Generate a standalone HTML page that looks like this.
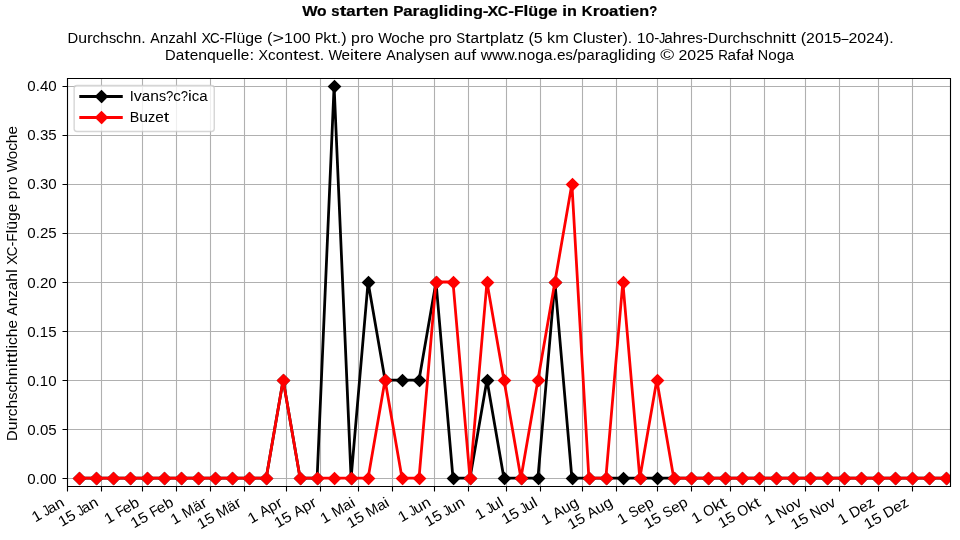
<!DOCTYPE html>
<html><head><meta charset="utf-8"><title>Wo starten Paragliding-XC-Flüge in Kroatien?</title>
<style>html,body{margin:0;padding:0;background:#fff;width:960px;height:540px;overflow:hidden}svg{display:block;will-change:transform}
text{font-family:"Liberation Sans",sans-serif}</style></head>
<body>
<svg width="960" height="540" viewBox="0 0 960 540"><defs><clipPath id="c"><rect x="67.2" y="78" width="883.2" height="408"/></clipPath>
<path id="d" d="M0 5.89 L5.89 0 L0 -5.89 L-5.89 0Z"/></defs>
<rect width="960" height="540" fill="#fff"/>
<path clip-path="url(#c)" d="M67.5 486.5V78.5M101.5 486.5V78.5M142.5 486.5V78.5M176.5 486.5V78.5M210.5 486.5V78.5M244.5 486.5V78.5M286.5 486.5V78.5M320.5 486.5V78.5M358.5 486.5V78.5M392.5 486.5V78.5M434.5 486.5V78.5M468.5 486.5V78.5M506.5 486.5V78.5M540.5 486.5V78.5M582.5 486.5V78.5M616.5 486.5V78.5M657.5 486.5V78.5M691.5 486.5V78.5M730.5 486.5V78.5M764.5 486.5V78.5M805.5 486.5V78.5M839.5 486.5V78.5M878.5 486.5V78.5M912.5 486.5V78.5M67.5 478.5H950.5M67.5 429.5H950.5M67.5 380.5H950.5M67.5 331.5H950.5M67.5 282.5H950.5M67.5 233.5H950.5M67.5 184.5H950.5M67.5 135.5H950.5M67.5 86.5H950.5" fill="none" stroke="#b0b0b0" stroke-width="1.11" stroke-linecap="square"/>
<path d="M67.5 486.5v5M101.5 486.5v5M142.5 486.5v5M176.5 486.5v5M210.5 486.5v5M244.5 486.5v5M286.5 486.5v5M320.5 486.5v5M358.5 486.5v5M392.5 486.5v5M434.5 486.5v5M468.5 486.5v5M506.5 486.5v5M540.5 486.5v5M582.5 486.5v5M616.5 486.5v5M657.5 486.5v5M691.5 486.5v5M730.5 486.5v5M764.5 486.5v5M805.5 486.5v5M839.5 486.5v5M878.5 486.5v5M912.5 486.5v5M67.5 478.5h-5M67.5 429.5h-5M67.5 380.5h-5M67.5 331.5h-5M67.5 282.5h-5M67.5 233.5h-5M67.5 184.5h-5M67.5 135.5h-5M67.5 86.5h-5" fill="none" stroke="#000" stroke-width="1.11"/>
<path clip-path="url(#c)" d="M79.33 478.15L96.32 478.15L113.3 478.15L130.29 478.15L147.27 478.15L164.25 478.15L181.24 478.15L198.22 478.15L215.21 478.15L232.19 478.15L249.18 478.15L266.16 478.15L283.15 380.08L300.13 478.15L317.12 478.15L334.1 85.85L351.09 478.15L368.07 282L385.05 380.08L402.04 380.08L419.02 380.08L436.01 282L452.99 478.15L469.98 478.15L486.96 380.08L503.95 478.15L520.93 478.15L537.92 478.15L554.9 282L571.89 478.15L588.87 478.15L605.85 478.15L622.84 478.15L639.82 478.15L656.81 478.15L673.79 478.15L690.78 478.15L707.76 478.15L724.75 478.15L741.73 478.15L758.72 478.15L775.7 478.15L792.69 478.15L809.67 478.15L826.65 478.15L843.64 478.15L860.62 478.15L877.61 478.15L894.59 478.15L911.58 478.15L928.56 478.15L945.55 478.15" fill="none" stroke="#000" stroke-width="2.78" stroke-linecap="square" stroke-linejoin="round"/>
<g clip-path="url(#c)" fill="#000" stroke="#000" stroke-width="1.39" stroke-linejoin="miter"><use href="#d" x="79.5" y="478.5"/><use href="#d" x="96.5" y="478.5"/><use href="#d" x="113.5" y="478.5"/><use href="#d" x="130.5" y="478.5"/><use href="#d" x="147.5" y="478.5"/><use href="#d" x="164.5" y="478.5"/><use href="#d" x="181.5" y="478.5"/><use href="#d" x="198.5" y="478.5"/><use href="#d" x="215.5" y="478.5"/><use href="#d" x="232.5" y="478.5"/><use href="#d" x="249.5" y="478.5"/><use href="#d" x="266.5" y="478.5"/><use href="#d" x="283.5" y="380.5"/><use href="#d" x="300.5" y="478.5"/><use href="#d" x="317.5" y="478.5"/><use href="#d" x="334.5" y="86.5"/><use href="#d" x="351.5" y="478.5"/><use href="#d" x="368.5" y="282.5"/><use href="#d" x="385.5" y="380.5"/><use href="#d" x="402.5" y="380.5"/><use href="#d" x="419.5" y="380.5"/><use href="#d" x="436.5" y="282.5"/><use href="#d" x="453.5" y="478.5"/><use href="#d" x="470.5" y="478.5"/><use href="#d" x="487.5" y="380.5"/><use href="#d" x="504.5" y="478.5"/><use href="#d" x="521.5" y="478.5"/><use href="#d" x="538.5" y="478.5"/><use href="#d" x="555.5" y="282.5"/><use href="#d" x="572.5" y="478.5"/><use href="#d" x="589.5" y="478.5"/><use href="#d" x="606.5" y="478.5"/><use href="#d" x="623.5" y="478.5"/><use href="#d" x="640.5" y="478.5"/><use href="#d" x="657.5" y="478.5"/><use href="#d" x="674.5" y="478.5"/><use href="#d" x="691.5" y="478.5"/><use href="#d" x="708.5" y="478.5"/><use href="#d" x="725.5" y="478.5"/><use href="#d" x="742.5" y="478.5"/><use href="#d" x="759.5" y="478.5"/><use href="#d" x="776.5" y="478.5"/><use href="#d" x="793.5" y="478.5"/><use href="#d" x="810.5" y="478.5"/><use href="#d" x="827.5" y="478.5"/><use href="#d" x="844.5" y="478.5"/><use href="#d" x="861.5" y="478.5"/><use href="#d" x="878.5" y="478.5"/><use href="#d" x="895.5" y="478.5"/><use href="#d" x="912.5" y="478.5"/><use href="#d" x="929.5" y="478.5"/><use href="#d" x="946.5" y="478.5"/></g>
<path clip-path="url(#c)" d="M79.33 478.15L96.32 478.15L113.3 478.15L130.29 478.15L147.27 478.15L164.25 478.15L181.24 478.15L198.22 478.15L215.21 478.15L232.19 478.15L249.18 478.15L266.16 478.15L283.15 380.08L300.13 478.15L317.12 478.15L334.1 478.15L351.09 478.15L368.07 478.15L385.05 380.08L402.04 478.15L419.02 478.15L436.01 282L452.99 282L469.98 478.15L486.96 282L503.95 380.08L520.93 478.15L537.92 380.08L554.9 282L571.89 183.92L588.87 478.15L605.85 478.15L622.84 282L639.82 478.15L656.81 380.08L673.79 478.15L690.78 478.15L707.76 478.15L724.75 478.15L741.73 478.15L758.72 478.15L775.7 478.15L792.69 478.15L809.67 478.15L826.65 478.15L843.64 478.15L860.62 478.15L877.61 478.15L894.59 478.15L911.58 478.15L928.56 478.15L945.55 478.15" fill="none" stroke="#f00" stroke-width="2.78" stroke-linecap="square" stroke-linejoin="round"/>
<g clip-path="url(#c)" fill="#f00" stroke="#f00" stroke-width="1.39" stroke-linejoin="miter"><use href="#d" x="79.5" y="478.5"/><use href="#d" x="96.5" y="478.5"/><use href="#d" x="113.5" y="478.5"/><use href="#d" x="130.5" y="478.5"/><use href="#d" x="147.5" y="478.5"/><use href="#d" x="164.5" y="478.5"/><use href="#d" x="181.5" y="478.5"/><use href="#d" x="198.5" y="478.5"/><use href="#d" x="215.5" y="478.5"/><use href="#d" x="232.5" y="478.5"/><use href="#d" x="249.5" y="478.5"/><use href="#d" x="266.5" y="478.5"/><use href="#d" x="283.5" y="380.5"/><use href="#d" x="300.5" y="478.5"/><use href="#d" x="317.5" y="478.5"/><use href="#d" x="334.5" y="478.5"/><use href="#d" x="351.5" y="478.5"/><use href="#d" x="368.5" y="478.5"/><use href="#d" x="385.5" y="380.5"/><use href="#d" x="402.5" y="478.5"/><use href="#d" x="419.5" y="478.5"/><use href="#d" x="436.5" y="282.5"/><use href="#d" x="453.5" y="282.5"/><use href="#d" x="470.5" y="478.5"/><use href="#d" x="487.5" y="282.5"/><use href="#d" x="504.5" y="380.5"/><use href="#d" x="521.5" y="478.5"/><use href="#d" x="538.5" y="380.5"/><use href="#d" x="555.5" y="282.5"/><use href="#d" x="572.5" y="184.5"/><use href="#d" x="589.5" y="478.5"/><use href="#d" x="606.5" y="478.5"/><use href="#d" x="623.5" y="282.5"/><use href="#d" x="640.5" y="478.5"/><use href="#d" x="657.5" y="380.5"/><use href="#d" x="674.5" y="478.5"/><use href="#d" x="691.5" y="478.5"/><use href="#d" x="708.5" y="478.5"/><use href="#d" x="725.5" y="478.5"/><use href="#d" x="742.5" y="478.5"/><use href="#d" x="759.5" y="478.5"/><use href="#d" x="776.5" y="478.5"/><use href="#d" x="793.5" y="478.5"/><use href="#d" x="810.5" y="478.5"/><use href="#d" x="827.5" y="478.5"/><use href="#d" x="844.5" y="478.5"/><use href="#d" x="861.5" y="478.5"/><use href="#d" x="878.5" y="478.5"/><use href="#d" x="895.5" y="478.5"/><use href="#d" x="912.5" y="478.5"/><use href="#d" x="929.5" y="478.5"/><use href="#d" x="946.5" y="478.5"/></g>
<path d="M67.5 486.5V78.5H950.5V486.5Z" fill="none" stroke="#000" stroke-width="1.11" stroke-linecap="square" stroke-linejoin="miter"/>
<rect x="74.14" y="85.44" width="140.11" height="46.06" rx="2.78" fill="#fff" stroke="#ccc" stroke-width="1.39" opacity="0.8"/>
<path d="M80.7 96.5H121.37" stroke="#000" stroke-width="2.78" stroke-linecap="square"/>
<use href="#d" x="101.5" y="96.5" fill="#000" stroke="#000" stroke-width="1.39" stroke-linejoin="miter"/>
<path d="M80.7 117.5H121.37" stroke="#f00" stroke-width="2.78" stroke-linecap="square"/>
<use href="#d" x="101.5" y="117.5" fill="#f00" stroke="#f00" stroke-width="1.39" stroke-linejoin="miter"/>
<text x="35.31" y="522.56" transform="rotate(-30 35.31 522.56)" font-size="14.72"><tspan x="35.31" textLength="8.84" lengthAdjust="spacingAndGlyphs">1</tspan><tspan x="47.49" textLength="6.25" lengthAdjust="spacingAndGlyphs">J</tspan><tspan x="52.66" textLength="8.51" lengthAdjust="spacingAndGlyphs">a</tspan><tspan x="61.17" textLength="8.8" lengthAdjust="spacingAndGlyphs">n</tspan></text>
<text x="61.71" y="526.94" transform="rotate(-30 61.71 526.94)" font-size="14.72"><tspan x="61.71" textLength="8.84" lengthAdjust="spacingAndGlyphs">1</tspan><tspan x="70.54" textLength="8.84" lengthAdjust="spacingAndGlyphs">5</tspan><tspan x="82.71" textLength="6.25" lengthAdjust="spacingAndGlyphs">J</tspan><tspan x="87.89" textLength="8.51" lengthAdjust="spacingAndGlyphs">a</tspan><tspan x="96.4" textLength="8.8" lengthAdjust="spacingAndGlyphs">n</tspan></text>
<text x="107.72" y="524.19" transform="rotate(-30 107.72 524.19)" font-size="14.72"><tspan x="107.72" textLength="8.84" lengthAdjust="spacingAndGlyphs">1</tspan><tspan x="120.97" textLength="7.99" lengthAdjust="spacingAndGlyphs">F</tspan><tspan x="128.19" textLength="8.54" lengthAdjust="spacingAndGlyphs">e</tspan><tspan x="136.74" textLength="8.82" lengthAdjust="spacingAndGlyphs">b</tspan></text>
<text x="134.11" y="528.56" transform="rotate(-30 134.11 528.56)" font-size="14.72"><tspan x="134.11" textLength="8.84" lengthAdjust="spacingAndGlyphs">1</tspan><tspan x="142.94" textLength="8.84" lengthAdjust="spacingAndGlyphs">5</tspan><tspan x="156.2" textLength="7.99" lengthAdjust="spacingAndGlyphs">F</tspan><tspan x="163.42" textLength="8.54" lengthAdjust="spacingAndGlyphs">e</tspan><tspan x="171.97" textLength="8.82" lengthAdjust="spacingAndGlyphs">b</tspan></text>
<text x="174.14" y="525.06" transform="rotate(-30 174.14 525.06)" font-size="14.72"><tspan x="174.14" textLength="8.84" lengthAdjust="spacingAndGlyphs">1</tspan><tspan x="187.39" textLength="11.98" lengthAdjust="spacingAndGlyphs">M</tspan><tspan x="199.37" textLength="8.51" lengthAdjust="spacingAndGlyphs">ä</tspan><tspan x="207.89" textLength="5.71" lengthAdjust="spacingAndGlyphs">r</tspan></text>
<text x="200.53" y="529.44" transform="rotate(-30 200.53 529.44)" font-size="14.72"><tspan x="200.53" textLength="8.84" lengthAdjust="spacingAndGlyphs">1</tspan><tspan x="209.37" textLength="8.84" lengthAdjust="spacingAndGlyphs">5</tspan><tspan x="222.62" textLength="11.98" lengthAdjust="spacingAndGlyphs">M</tspan><tspan x="234.6" textLength="8.51" lengthAdjust="spacingAndGlyphs">ä</tspan><tspan x="243.11" textLength="5.71" lengthAdjust="spacingAndGlyphs">r</tspan></text>
<text x="251.31" y="523.94" transform="rotate(-30 251.31 523.94)" font-size="14.72"><tspan x="251.31" textLength="8.84" lengthAdjust="spacingAndGlyphs">1</tspan><tspan x="264.56" textLength="9.5" lengthAdjust="spacingAndGlyphs">A</tspan><tspan x="274.06" textLength="8.82" lengthAdjust="spacingAndGlyphs">p</tspan><tspan x="282.87" textLength="5.71" lengthAdjust="spacingAndGlyphs">r</tspan></text>
<text x="277.7" y="528.31" transform="rotate(-30 277.7 528.31)" font-size="14.72"><tspan x="277.7" textLength="8.84" lengthAdjust="spacingAndGlyphs">1</tspan><tspan x="286.53" textLength="8.84" lengthAdjust="spacingAndGlyphs">5</tspan><tspan x="299.79" textLength="9.5" lengthAdjust="spacingAndGlyphs">A</tspan><tspan x="309.29" textLength="8.82" lengthAdjust="spacingAndGlyphs">p</tspan><tspan x="318.1" textLength="5.71" lengthAdjust="spacingAndGlyphs">r</tspan></text>
<text x="323.77" y="524.12" transform="rotate(-30 323.77 524.12)" font-size="14.72"><tspan x="323.77" textLength="8.84" lengthAdjust="spacingAndGlyphs">1</tspan><tspan x="337.02" textLength="11.98" lengthAdjust="spacingAndGlyphs">M</tspan><tspan x="349.01" textLength="8.51" lengthAdjust="spacingAndGlyphs">a</tspan><tspan x="357.52" textLength="3.86" lengthAdjust="spacingAndGlyphs">i</tspan></text>
<text x="350.16" y="528.5" transform="rotate(-30 350.16 528.5)" font-size="14.72"><tspan x="350.16" textLength="8.84" lengthAdjust="spacingAndGlyphs">1</tspan><tspan x="359" textLength="8.84" lengthAdjust="spacingAndGlyphs">5</tspan><tspan x="372.25" textLength="11.98" lengthAdjust="spacingAndGlyphs">M</tspan><tspan x="384.24" textLength="8.51" lengthAdjust="spacingAndGlyphs">a</tspan><tspan x="392.75" textLength="3.86" lengthAdjust="spacingAndGlyphs">i</tspan></text>
<text x="401.59" y="522.62" transform="rotate(-30 401.59 522.62)" font-size="14.72"><tspan x="401.59" textLength="8.84" lengthAdjust="spacingAndGlyphs">1</tspan><tspan x="413.76" textLength="6.25" lengthAdjust="spacingAndGlyphs">J</tspan><tspan x="418.94" textLength="8.8" lengthAdjust="spacingAndGlyphs">u</tspan><tspan x="427.74" textLength="8.8" lengthAdjust="spacingAndGlyphs">n</tspan></text>
<text x="427.98" y="527" transform="rotate(-30 427.98 527)" font-size="14.72"><tspan x="427.98" textLength="8.84" lengthAdjust="spacingAndGlyphs">1</tspan><tspan x="436.82" textLength="8.84" lengthAdjust="spacingAndGlyphs">5</tspan><tspan x="448.99" textLength="6.25" lengthAdjust="spacingAndGlyphs">J</tspan><tspan x="454.16" textLength="8.8" lengthAdjust="spacingAndGlyphs">u</tspan><tspan x="462.97" textLength="8.8" lengthAdjust="spacingAndGlyphs">n</tspan></text>
<text x="478.6" y="520.19" transform="rotate(-30 478.6 520.19)" font-size="14.72"><tspan x="478.6" textLength="8.84" lengthAdjust="spacingAndGlyphs">1</tspan><tspan x="490.77" textLength="6.25" lengthAdjust="spacingAndGlyphs">J</tspan><tspan x="495.95" textLength="8.8" lengthAdjust="spacingAndGlyphs">u</tspan><tspan x="504.75" textLength="3.86" lengthAdjust="spacingAndGlyphs">l</tspan></text>
<text x="504.99" y="524.56" transform="rotate(-30 504.99 524.56)" font-size="14.72"><tspan x="504.99" textLength="8.84" lengthAdjust="spacingAndGlyphs">1</tspan><tspan x="513.83" textLength="8.84" lengthAdjust="spacingAndGlyphs">5</tspan><tspan x="526" textLength="6.25" lengthAdjust="spacingAndGlyphs">J</tspan><tspan x="531.18" textLength="8.8" lengthAdjust="spacingAndGlyphs">u</tspan><tspan x="539.98" textLength="3.86" lengthAdjust="spacingAndGlyphs">l</tspan></text>
<text x="544.73" y="525.44" transform="rotate(-30 544.73 525.44)" font-size="14.72"><tspan x="544.73" textLength="8.84" lengthAdjust="spacingAndGlyphs">1</tspan><tspan x="557.98" textLength="9.5" lengthAdjust="spacingAndGlyphs">A</tspan><tspan x="567.48" textLength="8.8" lengthAdjust="spacingAndGlyphs">u</tspan><tspan x="576.28" textLength="8.82" lengthAdjust="spacingAndGlyphs">g</tspan></text>
<text x="571.12" y="529.81" transform="rotate(-30 571.12 529.81)" font-size="14.72"><tspan x="571.12" textLength="8.84" lengthAdjust="spacingAndGlyphs">1</tspan><tspan x="579.95" textLength="8.84" lengthAdjust="spacingAndGlyphs">5</tspan><tspan x="593.2" textLength="9.5" lengthAdjust="spacingAndGlyphs">A</tspan><tspan x="602.71" textLength="8.8" lengthAdjust="spacingAndGlyphs">u</tspan><tspan x="611.51" textLength="8.82" lengthAdjust="spacingAndGlyphs">g</tspan></text>
<text x="620.81" y="524.94" transform="rotate(-30 620.81 524.94)" font-size="14.72"><tspan x="620.81" textLength="8.84" lengthAdjust="spacingAndGlyphs">1</tspan><tspan x="634.06" textLength="8.82" lengthAdjust="spacingAndGlyphs">S</tspan><tspan x="642.88" textLength="8.54" lengthAdjust="spacingAndGlyphs">e</tspan><tspan x="651.42" textLength="8.82" lengthAdjust="spacingAndGlyphs">p</tspan></text>
<text x="647.2" y="529.31" transform="rotate(-30 647.2 529.31)" font-size="14.72"><tspan x="647.2" textLength="8.84" lengthAdjust="spacingAndGlyphs">1</tspan><tspan x="656.04" textLength="8.84" lengthAdjust="spacingAndGlyphs">5</tspan><tspan x="669.29" textLength="8.82" lengthAdjust="spacingAndGlyphs">S</tspan><tspan x="678.1" textLength="8.54" lengthAdjust="spacingAndGlyphs">e</tspan><tspan x="686.65" textLength="8.82" lengthAdjust="spacingAndGlyphs">p</tspan></text>
<text x="695.01" y="524.12" transform="rotate(-30 695.01 524.12)" font-size="14.72"><tspan x="695.01" textLength="8.84" lengthAdjust="spacingAndGlyphs">1</tspan><tspan x="708.26" textLength="10.93" lengthAdjust="spacingAndGlyphs">O</tspan><tspan x="719.19" textLength="8.04" lengthAdjust="spacingAndGlyphs">k</tspan><tspan x="727.23" textLength="5.45" lengthAdjust="spacingAndGlyphs">t</tspan></text>
<text x="721.4" y="528.5" transform="rotate(-30 721.4 528.5)" font-size="14.72"><tspan x="721.4" textLength="8.84" lengthAdjust="spacingAndGlyphs">1</tspan><tspan x="730.24" textLength="8.84" lengthAdjust="spacingAndGlyphs">5</tspan><tspan x="743.49" textLength="10.93" lengthAdjust="spacingAndGlyphs">O</tspan><tspan x="754.42" textLength="8.04" lengthAdjust="spacingAndGlyphs">k</tspan><tspan x="762.46" textLength="5.45" lengthAdjust="spacingAndGlyphs">t</tspan></text>
<text x="767.95" y="525.44" transform="rotate(-30 767.95 525.44)" font-size="14.72"><tspan x="767.95" textLength="8.84" lengthAdjust="spacingAndGlyphs">1</tspan><tspan x="781.2" textLength="10.39" lengthAdjust="spacingAndGlyphs">N</tspan><tspan x="791.59" textLength="8.5" lengthAdjust="spacingAndGlyphs">o</tspan><tspan x="800.09" textLength="8.22" lengthAdjust="spacingAndGlyphs">v</tspan></text>
<text x="794.34" y="529.81" transform="rotate(-30 794.34 529.81)" font-size="14.72"><tspan x="794.34" textLength="8.84" lengthAdjust="spacingAndGlyphs">1</tspan><tspan x="803.18" textLength="8.84" lengthAdjust="spacingAndGlyphs">5</tspan><tspan x="816.43" textLength="10.39" lengthAdjust="spacingAndGlyphs">N</tspan><tspan x="826.82" textLength="8.5" lengthAdjust="spacingAndGlyphs">o</tspan><tspan x="835.32" textLength="8.22" lengthAdjust="spacingAndGlyphs">v</tspan></text>
<text x="841.18" y="525.19" transform="rotate(-30 841.18 525.19)" font-size="14.72"><tspan x="841.18" textLength="8.84" lengthAdjust="spacingAndGlyphs">1</tspan><tspan x="854.43" textLength="10.69" lengthAdjust="spacingAndGlyphs">D</tspan><tspan x="865.12" textLength="8.54" lengthAdjust="spacingAndGlyphs">e</tspan><tspan x="873.67" textLength="7.29" lengthAdjust="spacingAndGlyphs">z</tspan></text>
<text x="867.57" y="529.56" transform="rotate(-30 867.57 529.56)" font-size="14.72"><tspan x="867.57" textLength="8.84" lengthAdjust="spacingAndGlyphs">1</tspan><tspan x="876.4" textLength="8.84" lengthAdjust="spacingAndGlyphs">5</tspan><tspan x="889.66" textLength="10.69" lengthAdjust="spacingAndGlyphs">D</tspan><tspan x="900.35" textLength="8.54" lengthAdjust="spacingAndGlyphs">e</tspan><tspan x="908.9" textLength="7.29" lengthAdjust="spacingAndGlyphs">z</tspan></text>
<text x="27.35" y="483.65" font-size="14.72"><tspan x="27.35" textLength="8.38" lengthAdjust="spacingAndGlyphs">0</tspan><tspan x="35.73" textLength="4.19" lengthAdjust="spacingAndGlyphs">.</tspan><tspan x="39.92" textLength="8.38" lengthAdjust="spacingAndGlyphs">0</tspan><tspan x="48.29" textLength="8.38" lengthAdjust="spacingAndGlyphs">0</tspan></text>
<text x="27.35" y="434.62" font-size="14.72"><tspan x="27.35" textLength="8.38" lengthAdjust="spacingAndGlyphs">0</tspan><tspan x="35.73" textLength="4.19" lengthAdjust="spacingAndGlyphs">.</tspan><tspan x="39.92" textLength="8.38" lengthAdjust="spacingAndGlyphs">0</tspan><tspan x="48.29" textLength="8.38" lengthAdjust="spacingAndGlyphs">5</tspan></text>
<text x="27.23" y="385.58" font-size="14.72"><tspan x="27.23" textLength="8.38" lengthAdjust="spacingAndGlyphs">0</tspan><tspan x="35.6" textLength="4.19" lengthAdjust="spacingAndGlyphs">.</tspan><tspan x="39.79" textLength="8.38" lengthAdjust="spacingAndGlyphs">1</tspan><tspan x="48.17" textLength="8.38" lengthAdjust="spacingAndGlyphs">0</tspan></text>
<text x="27.23" y="336.54" font-size="14.72"><tspan x="27.23" textLength="8.38" lengthAdjust="spacingAndGlyphs">0</tspan><tspan x="35.6" textLength="4.19" lengthAdjust="spacingAndGlyphs">.</tspan><tspan x="39.79" textLength="8.38" lengthAdjust="spacingAndGlyphs">1</tspan><tspan x="48.17" textLength="8.38" lengthAdjust="spacingAndGlyphs">5</tspan></text>
<text x="27.35" y="287.5" font-size="14.72"><tspan x="27.35" textLength="8.38" lengthAdjust="spacingAndGlyphs">0</tspan><tspan x="35.73" textLength="4.19" lengthAdjust="spacingAndGlyphs">.</tspan><tspan x="39.92" textLength="8.38" lengthAdjust="spacingAndGlyphs">2</tspan><tspan x="48.29" textLength="8.38" lengthAdjust="spacingAndGlyphs">0</tspan></text>
<text x="27.35" y="238.46" font-size="14.72"><tspan x="27.35" textLength="8.38" lengthAdjust="spacingAndGlyphs">0</tspan><tspan x="35.73" textLength="4.19" lengthAdjust="spacingAndGlyphs">.</tspan><tspan x="39.92" textLength="8.38" lengthAdjust="spacingAndGlyphs">2</tspan><tspan x="48.29" textLength="8.38" lengthAdjust="spacingAndGlyphs">5</tspan></text>
<text x="27.35" y="189.42" font-size="14.72"><tspan x="27.35" textLength="8.38" lengthAdjust="spacingAndGlyphs">0</tspan><tspan x="35.73" textLength="4.19" lengthAdjust="spacingAndGlyphs">.</tspan><tspan x="39.92" textLength="8.38" lengthAdjust="spacingAndGlyphs">3</tspan><tspan x="48.29" textLength="8.38" lengthAdjust="spacingAndGlyphs">0</tspan></text>
<text x="27.35" y="140.38" font-size="14.72"><tspan x="27.35" textLength="8.38" lengthAdjust="spacingAndGlyphs">0</tspan><tspan x="35.73" textLength="4.19" lengthAdjust="spacingAndGlyphs">.</tspan><tspan x="39.92" textLength="8.38" lengthAdjust="spacingAndGlyphs">3</tspan><tspan x="48.29" textLength="8.38" lengthAdjust="spacingAndGlyphs">5</tspan></text>
<text x="27.35" y="91.35" font-size="14.72"><tspan x="27.35" textLength="8.38" lengthAdjust="spacingAndGlyphs">0</tspan><tspan x="35.73" textLength="4.19" lengthAdjust="spacingAndGlyphs">.</tspan><tspan x="39.92" textLength="8.38" lengthAdjust="spacingAndGlyphs">4</tspan><tspan x="48.29" textLength="8.38" lengthAdjust="spacingAndGlyphs">0</tspan></text>
<text x="17.17" y="440.94" transform="rotate(-90 17.17 440.94)" font-size="14.72"><tspan x="17.17" textLength="10.66" lengthAdjust="spacingAndGlyphs">D</tspan><tspan x="27.83" textLength="8.77" lengthAdjust="spacingAndGlyphs">u</tspan><tspan x="36.61" textLength="5.69" lengthAdjust="spacingAndGlyphs">r</tspan><tspan x="41.99" textLength="7.61" lengthAdjust="spacingAndGlyphs">c</tspan><tspan x="49.6" textLength="8.77" lengthAdjust="spacingAndGlyphs">h</tspan><tspan x="58.37" textLength="7.21" lengthAdjust="spacingAndGlyphs">s</tspan><tspan x="65.59" textLength="7.61" lengthAdjust="spacingAndGlyphs">c</tspan><tspan x="73.2" textLength="8.77" lengthAdjust="spacingAndGlyphs">h</tspan><tspan x="81.97" textLength="8.77" lengthAdjust="spacingAndGlyphs">n</tspan><tspan x="90.75" textLength="3.85" lengthAdjust="spacingAndGlyphs">i</tspan><tspan x="94.59" textLength="5.43" lengthAdjust="spacingAndGlyphs">t</tspan><tspan x="100.02" textLength="5.43" lengthAdjust="spacingAndGlyphs">t</tspan><tspan x="105.45" textLength="3.85" lengthAdjust="spacingAndGlyphs">l</tspan><tspan x="109.3" textLength="3.85" lengthAdjust="spacingAndGlyphs">i</tspan><tspan x="113.14" textLength="7.61" lengthAdjust="spacingAndGlyphs">c</tspan><tspan x="120.75" textLength="8.77" lengthAdjust="spacingAndGlyphs">h</tspan><tspan x="129.53" textLength="8.52" lengthAdjust="spacingAndGlyphs">e</tspan><tspan x="142.45" textLength="9.47" lengthAdjust="spacingAndGlyphs">A</tspan><tspan x="151.92" textLength="8.77" lengthAdjust="spacingAndGlyphs">n</tspan><tspan x="160.69" textLength="7.27" lengthAdjust="spacingAndGlyphs">z</tspan><tspan x="167.96" textLength="8.48" lengthAdjust="spacingAndGlyphs">a</tspan><tspan x="176.44" textLength="8.77" lengthAdjust="spacingAndGlyphs">h</tspan><tspan x="185.22" textLength="3.85" lengthAdjust="spacingAndGlyphs">l</tspan><tspan x="193.47" textLength="9.48" lengthAdjust="spacingAndGlyphs">X</tspan><tspan x="201.95" textLength="9.67" lengthAdjust="spacingAndGlyphs">C</tspan><tspan x="211.61" textLength="5" lengthAdjust="spacingAndGlyphs">-</tspan><tspan x="216.61" textLength="7.96" lengthAdjust="spacingAndGlyphs">F</tspan><tspan x="224.57" textLength="3.85" lengthAdjust="spacingAndGlyphs">l</tspan><tspan x="228.42" textLength="8.77" lengthAdjust="spacingAndGlyphs">ü</tspan><tspan x="237.19" textLength="8.79" lengthAdjust="spacingAndGlyphs">g</tspan><tspan x="245.98" textLength="8.52" lengthAdjust="spacingAndGlyphs">e</tspan><tspan x="258.9" textLength="8.79" lengthAdjust="spacingAndGlyphs">p</tspan><tspan x="267.69" textLength="5.69" lengthAdjust="spacingAndGlyphs">r</tspan><tspan x="273.07" textLength="8.47" lengthAdjust="spacingAndGlyphs">o</tspan><tspan x="285.94" textLength="13.69" lengthAdjust="spacingAndGlyphs">W</tspan><tspan x="298.81" textLength="8.47" lengthAdjust="spacingAndGlyphs">o</tspan><tspan x="307.28" textLength="7.61" lengthAdjust="spacingAndGlyphs">c</tspan><tspan x="314.9" textLength="8.77" lengthAdjust="spacingAndGlyphs">h</tspan><tspan x="323.67" textLength="8.52" lengthAdjust="spacingAndGlyphs">e</tspan></text>
<text x="129.7" y="100.5" font-size="14.72"><tspan x="129.7" textLength="4.03" lengthAdjust="spacingAndGlyphs">I</tspan><tspan x="133.73" textLength="8.1" lengthAdjust="spacingAndGlyphs">v</tspan><tspan x="141.83" textLength="8.38" lengthAdjust="spacingAndGlyphs">a</tspan><tspan x="150.21" textLength="8.67" lengthAdjust="spacingAndGlyphs">n</tspan><tspan x="158.88" textLength="7.13" lengthAdjust="spacingAndGlyphs">s</tspan><tspan x="166.01" textLength="7.26" lengthAdjust="spacingAndGlyphs">?</tspan><tspan x="173.27" textLength="7.52" lengthAdjust="spacingAndGlyphs">c</tspan><tspan x="180.8" textLength="7.26" lengthAdjust="spacingAndGlyphs">?</tspan><tspan x="188.06" textLength="3.8" lengthAdjust="spacingAndGlyphs">i</tspan><tspan x="191.86" textLength="7.52" lengthAdjust="spacingAndGlyphs">c</tspan><tspan x="199.38" textLength="8.38" lengthAdjust="spacingAndGlyphs">a</tspan></text>
<text x="129.7" y="122.24" font-size="14.72"><tspan x="129.7" textLength="9.53" lengthAdjust="spacingAndGlyphs">B</tspan><tspan x="139.23" textLength="8.8" lengthAdjust="spacingAndGlyphs">u</tspan><tspan x="148.03" textLength="7.29" lengthAdjust="spacingAndGlyphs">z</tspan><tspan x="155.32" textLength="8.54" lengthAdjust="spacingAndGlyphs">e</tspan><tspan x="163.87" textLength="5.45" lengthAdjust="spacingAndGlyphs">t</tspan></text>
<text x="67.56" y="42.9" font-size="14.72"><tspan x="67.56" textLength="10.69" lengthAdjust="spacingAndGlyphs">D</tspan><tspan x="78.26" textLength="8.8" lengthAdjust="spacingAndGlyphs">u</tspan><tspan x="87.06" textLength="5.71" lengthAdjust="spacingAndGlyphs">r</tspan><tspan x="92.46" textLength="7.64" lengthAdjust="spacingAndGlyphs">c</tspan><tspan x="100.09" textLength="8.8" lengthAdjust="spacingAndGlyphs">h</tspan><tspan x="108.9" textLength="7.24" lengthAdjust="spacingAndGlyphs">s</tspan><tspan x="116.13" textLength="7.64" lengthAdjust="spacingAndGlyphs">c</tspan><tspan x="123.77" textLength="8.8" lengthAdjust="spacingAndGlyphs">h</tspan><tspan x="132.57" textLength="8.8" lengthAdjust="spacingAndGlyphs">n</tspan><tspan x="141.37" textLength="4.41" lengthAdjust="spacingAndGlyphs">.</tspan><tspan x="150.2" textLength="9.5" lengthAdjust="spacingAndGlyphs">A</tspan><tspan x="159.7" textLength="8.8" lengthAdjust="spacingAndGlyphs">n</tspan><tspan x="168.51" textLength="7.29" lengthAdjust="spacingAndGlyphs">z</tspan><tspan x="175.8" textLength="8.51" lengthAdjust="spacingAndGlyphs">a</tspan><tspan x="184.31" textLength="8.8" lengthAdjust="spacingAndGlyphs">h</tspan><tspan x="193.11" textLength="3.86" lengthAdjust="spacingAndGlyphs">l</tspan><tspan x="201.38" textLength="9.51" lengthAdjust="spacingAndGlyphs">X</tspan><tspan x="209.89" textLength="9.7" lengthAdjust="spacingAndGlyphs">C</tspan><tspan x="219.59" textLength="5.01" lengthAdjust="spacingAndGlyphs">-</tspan><tspan x="224.6" textLength="7.99" lengthAdjust="spacingAndGlyphs">F</tspan><tspan x="232.59" textLength="3.86" lengthAdjust="spacingAndGlyphs">l</tspan><tspan x="236.45" textLength="8.8" lengthAdjust="spacingAndGlyphs">ü</tspan><tspan x="245.25" textLength="8.82" lengthAdjust="spacingAndGlyphs">g</tspan><tspan x="254.07" textLength="8.54" lengthAdjust="spacingAndGlyphs">e</tspan><tspan x="267.03" textLength="5.42" lengthAdjust="spacingAndGlyphs">(</tspan><tspan x="272.46" textLength="11.6" lengthAdjust="spacingAndGlyphs">&gt;</tspan><tspan x="284.08" textLength="8.84" lengthAdjust="spacingAndGlyphs">1</tspan><tspan x="292.92" textLength="8.84" lengthAdjust="spacingAndGlyphs">0</tspan><tspan x="301.76" textLength="8.84" lengthAdjust="spacingAndGlyphs">0</tspan><tspan x="315.01" textLength="8.38" lengthAdjust="spacingAndGlyphs">P</tspan><tspan x="323.38" textLength="8.04" lengthAdjust="spacingAndGlyphs">k</tspan><tspan x="331.43" textLength="5.45" lengthAdjust="spacingAndGlyphs">t</tspan><tspan x="336.87" textLength="4.41" lengthAdjust="spacingAndGlyphs">.</tspan><tspan x="341.29" textLength="5.42" lengthAdjust="spacingAndGlyphs">)</tspan><tspan x="351.12" textLength="8.82" lengthAdjust="spacingAndGlyphs">p</tspan><tspan x="359.94" textLength="5.71" lengthAdjust="spacingAndGlyphs">r</tspan><tspan x="365.34" textLength="8.5" lengthAdjust="spacingAndGlyphs">o</tspan><tspan x="378.25" textLength="13.73" lengthAdjust="spacingAndGlyphs">W</tspan><tspan x="391.16" textLength="8.5" lengthAdjust="spacingAndGlyphs">o</tspan><tspan x="399.66" textLength="7.64" lengthAdjust="spacingAndGlyphs">c</tspan><tspan x="407.3" textLength="8.8" lengthAdjust="spacingAndGlyphs">h</tspan><tspan x="416.1" textLength="8.54" lengthAdjust="spacingAndGlyphs">e</tspan><tspan x="429.06" textLength="8.82" lengthAdjust="spacingAndGlyphs">p</tspan><tspan x="437.88" textLength="5.71" lengthAdjust="spacingAndGlyphs">r</tspan><tspan x="443.27" textLength="8.5" lengthAdjust="spacingAndGlyphs">o</tspan><tspan x="456.19" textLength="8.82" lengthAdjust="spacingAndGlyphs">S</tspan><tspan x="465" textLength="5.45" lengthAdjust="spacingAndGlyphs">t</tspan><tspan x="470.45" textLength="8.51" lengthAdjust="spacingAndGlyphs">a</tspan><tspan x="478.96" textLength="5.71" lengthAdjust="spacingAndGlyphs">r</tspan><tspan x="484.67" textLength="5.45" lengthAdjust="spacingAndGlyphs">t</tspan><tspan x="490.12" textLength="8.82" lengthAdjust="spacingAndGlyphs">p</tspan><tspan x="498.93" textLength="3.86" lengthAdjust="spacingAndGlyphs">l</tspan><tspan x="502.79" textLength="8.51" lengthAdjust="spacingAndGlyphs">a</tspan><tspan x="511.3" textLength="5.45" lengthAdjust="spacingAndGlyphs">t</tspan><tspan x="516.75" textLength="7.29" lengthAdjust="spacingAndGlyphs">z</tspan><tspan x="528.45" textLength="5.42" lengthAdjust="spacingAndGlyphs">(</tspan><tspan x="533.87" textLength="8.84" lengthAdjust="spacingAndGlyphs">5</tspan><tspan x="547.12" textLength="8.04" lengthAdjust="spacingAndGlyphs">k</tspan><tspan x="555.17" textLength="13.53" lengthAdjust="spacingAndGlyphs">m</tspan><tspan x="573.11" textLength="9.7" lengthAdjust="spacingAndGlyphs">C</tspan><tspan x="582.81" textLength="3.86" lengthAdjust="spacingAndGlyphs">l</tspan><tspan x="586.67" textLength="8.8" lengthAdjust="spacingAndGlyphs">u</tspan><tspan x="595.47" textLength="7.24" lengthAdjust="spacingAndGlyphs">s</tspan><tspan x="602.7" textLength="5.45" lengthAdjust="spacingAndGlyphs">t</tspan><tspan x="608.15" textLength="8.54" lengthAdjust="spacingAndGlyphs">e</tspan><tspan x="616.7" textLength="5.71" lengthAdjust="spacingAndGlyphs">r</tspan><tspan x="622.41" textLength="5.42" lengthAdjust="spacingAndGlyphs">)</tspan><tspan x="627.82" textLength="4.41" lengthAdjust="spacingAndGlyphs">.</tspan><tspan x="636.65" textLength="8.84" lengthAdjust="spacingAndGlyphs">1</tspan><tspan x="645.49" textLength="8.84" lengthAdjust="spacingAndGlyphs">0</tspan><tspan x="654.33" textLength="5.01" lengthAdjust="spacingAndGlyphs">-</tspan><tspan x="659.04" textLength="6.25" lengthAdjust="spacingAndGlyphs">J</tspan><tspan x="664.22" textLength="8.51" lengthAdjust="spacingAndGlyphs">a</tspan><tspan x="672.73" textLength="8.8" lengthAdjust="spacingAndGlyphs">h</tspan><tspan x="681.53" textLength="5.71" lengthAdjust="spacingAndGlyphs">r</tspan><tspan x="686.93" textLength="8.54" lengthAdjust="spacingAndGlyphs">e</tspan><tspan x="695.47" textLength="7.24" lengthAdjust="spacingAndGlyphs">s</tspan><tspan x="702.71" textLength="5.01" lengthAdjust="spacingAndGlyphs">-</tspan><tspan x="707.72" textLength="10.69" lengthAdjust="spacingAndGlyphs">D</tspan><tspan x="718.41" textLength="8.8" lengthAdjust="spacingAndGlyphs">u</tspan><tspan x="727.22" textLength="5.71" lengthAdjust="spacingAndGlyphs">r</tspan><tspan x="732.62" textLength="7.64" lengthAdjust="spacingAndGlyphs">c</tspan><tspan x="740.25" textLength="8.8" lengthAdjust="spacingAndGlyphs">h</tspan><tspan x="749.05" textLength="7.24" lengthAdjust="spacingAndGlyphs">s</tspan><tspan x="756.29" textLength="7.64" lengthAdjust="spacingAndGlyphs">c</tspan><tspan x="763.93" textLength="8.8" lengthAdjust="spacingAndGlyphs">h</tspan><tspan x="772.73" textLength="8.8" lengthAdjust="spacingAndGlyphs">n</tspan><tspan x="781.53" textLength="3.86" lengthAdjust="spacingAndGlyphs">i</tspan><tspan x="785.39" textLength="5.45" lengthAdjust="spacingAndGlyphs">t</tspan><tspan x="790.84" textLength="5.45" lengthAdjust="spacingAndGlyphs">t</tspan><tspan x="800.7" textLength="5.42" lengthAdjust="spacingAndGlyphs">(</tspan><tspan x="806.12" textLength="8.84" lengthAdjust="spacingAndGlyphs">2</tspan><tspan x="814.95" textLength="8.84" lengthAdjust="spacingAndGlyphs">0</tspan><tspan x="823.79" textLength="8.84" lengthAdjust="spacingAndGlyphs">1</tspan><tspan x="832.62" textLength="8.84" lengthAdjust="spacingAndGlyphs">5</tspan><tspan x="841.45" textLength="6.96" lengthAdjust="spacingAndGlyphs">–</tspan><tspan x="848.41" textLength="8.84" lengthAdjust="spacingAndGlyphs">2</tspan><tspan x="857.24" textLength="8.84" lengthAdjust="spacingAndGlyphs">0</tspan><tspan x="866.08" textLength="8.84" lengthAdjust="spacingAndGlyphs">2</tspan><tspan x="874.92" textLength="8.84" lengthAdjust="spacingAndGlyphs">4</tspan><tspan x="883.75" textLength="5.42" lengthAdjust="spacingAndGlyphs">)</tspan><tspan x="889.17" textLength="4.41" lengthAdjust="spacingAndGlyphs">.</tspan></text>
<text x="165.01" y="59.8" font-size="14.72"><tspan x="165.01" textLength="10.69" lengthAdjust="spacingAndGlyphs">D</tspan><tspan x="175.71" textLength="8.51" lengthAdjust="spacingAndGlyphs">a</tspan><tspan x="184.22" textLength="5.45" lengthAdjust="spacingAndGlyphs">t</tspan><tspan x="189.66" textLength="8.54" lengthAdjust="spacingAndGlyphs">e</tspan><tspan x="198.21" textLength="8.8" lengthAdjust="spacingAndGlyphs">n</tspan><tspan x="207.01" textLength="8.82" lengthAdjust="spacingAndGlyphs">q</tspan><tspan x="215.83" textLength="8.8" lengthAdjust="spacingAndGlyphs">u</tspan><tspan x="224.63" textLength="8.54" lengthAdjust="spacingAndGlyphs">e</tspan><tspan x="233.18" textLength="3.86" lengthAdjust="spacingAndGlyphs">l</tspan><tspan x="237.03" textLength="3.86" lengthAdjust="spacingAndGlyphs">l</tspan><tspan x="240.89" textLength="8.54" lengthAdjust="spacingAndGlyphs">e</tspan><tspan x="249.44" textLength="4.68" lengthAdjust="spacingAndGlyphs">:</tspan><tspan x="258.53" textLength="9.51" lengthAdjust="spacingAndGlyphs">X</tspan><tspan x="268.05" textLength="7.64" lengthAdjust="spacingAndGlyphs">c</tspan><tspan x="275.68" textLength="8.5" lengthAdjust="spacingAndGlyphs">o</tspan><tspan x="284.18" textLength="8.8" lengthAdjust="spacingAndGlyphs">n</tspan><tspan x="292.98" textLength="5.45" lengthAdjust="spacingAndGlyphs">t</tspan><tspan x="298.43" textLength="8.54" lengthAdjust="spacingAndGlyphs">e</tspan><tspan x="306.97" textLength="7.24" lengthAdjust="spacingAndGlyphs">s</tspan><tspan x="314.21" textLength="5.45" lengthAdjust="spacingAndGlyphs">t</tspan><tspan x="319.66" textLength="4.41" lengthAdjust="spacingAndGlyphs">.</tspan><tspan x="328.48" textLength="13.73" lengthAdjust="spacingAndGlyphs">W</tspan><tspan x="341.4" textLength="8.54" lengthAdjust="spacingAndGlyphs">e</tspan><tspan x="349.95" textLength="3.86" lengthAdjust="spacingAndGlyphs">i</tspan><tspan x="353.81" textLength="5.45" lengthAdjust="spacingAndGlyphs">t</tspan><tspan x="359.25" textLength="8.54" lengthAdjust="spacingAndGlyphs">e</tspan><tspan x="367.8" textLength="5.71" lengthAdjust="spacingAndGlyphs">r</tspan><tspan x="373.19" textLength="8.54" lengthAdjust="spacingAndGlyphs">e</tspan><tspan x="386.15" textLength="9.5" lengthAdjust="spacingAndGlyphs">A</tspan><tspan x="395.65" textLength="8.8" lengthAdjust="spacingAndGlyphs">n</tspan><tspan x="404.46" textLength="8.51" lengthAdjust="spacingAndGlyphs">a</tspan><tspan x="412.97" textLength="3.86" lengthAdjust="spacingAndGlyphs">l</tspan><tspan x="416.83" textLength="8.22" lengthAdjust="spacingAndGlyphs">y</tspan><tspan x="425.05" textLength="7.24" lengthAdjust="spacingAndGlyphs">s</tspan><tspan x="432.28" textLength="8.54" lengthAdjust="spacingAndGlyphs">e</tspan><tspan x="440.83" textLength="8.8" lengthAdjust="spacingAndGlyphs">n</tspan><tspan x="454.05" textLength="8.51" lengthAdjust="spacingAndGlyphs">a</tspan><tspan x="462.56" textLength="8.8" lengthAdjust="spacingAndGlyphs">u</tspan><tspan x="471.36" textLength="4.89" lengthAdjust="spacingAndGlyphs">f</tspan><tspan x="480.66" textLength="11.36" lengthAdjust="spacingAndGlyphs">w</tspan><tspan x="492.02" textLength="11.36" lengthAdjust="spacingAndGlyphs">w</tspan><tspan x="503.38" textLength="11.36" lengthAdjust="spacingAndGlyphs">w</tspan><tspan x="513.47" textLength="4.41" lengthAdjust="spacingAndGlyphs">.</tspan><tspan x="517.89" textLength="8.8" lengthAdjust="spacingAndGlyphs">n</tspan><tspan x="526.69" textLength="8.5" lengthAdjust="spacingAndGlyphs">o</tspan><tspan x="535.19" textLength="8.82" lengthAdjust="spacingAndGlyphs">g</tspan><tspan x="544.01" textLength="8.51" lengthAdjust="spacingAndGlyphs">a</tspan><tspan x="552.52" textLength="4.41" lengthAdjust="spacingAndGlyphs">.</tspan><tspan x="556.93" textLength="8.54" lengthAdjust="spacingAndGlyphs">e</tspan><tspan x="565.48" textLength="7.24" lengthAdjust="spacingAndGlyphs">s</tspan><tspan x="572.71" textLength="4.68" lengthAdjust="spacingAndGlyphs">/</tspan><tspan x="577.39" textLength="8.82" lengthAdjust="spacingAndGlyphs">p</tspan><tspan x="586.21" textLength="8.51" lengthAdjust="spacingAndGlyphs">a</tspan><tspan x="594.72" textLength="5.71" lengthAdjust="spacingAndGlyphs">r</tspan><tspan x="600.43" textLength="8.51" lengthAdjust="spacingAndGlyphs">a</tspan><tspan x="608.94" textLength="8.82" lengthAdjust="spacingAndGlyphs">g</tspan><tspan x="617.76" textLength="3.86" lengthAdjust="spacingAndGlyphs">l</tspan><tspan x="621.61" textLength="3.86" lengthAdjust="spacingAndGlyphs">i</tspan><tspan x="625.47" textLength="8.82" lengthAdjust="spacingAndGlyphs">d</tspan><tspan x="634.29" textLength="3.86" lengthAdjust="spacingAndGlyphs">i</tspan><tspan x="638.15" textLength="8.8" lengthAdjust="spacingAndGlyphs">n</tspan><tspan x="646.95" textLength="8.82" lengthAdjust="spacingAndGlyphs">g</tspan><tspan x="660.18" textLength="13.89" lengthAdjust="spacingAndGlyphs">©</tspan><tspan x="678.49" textLength="8.84" lengthAdjust="spacingAndGlyphs">2</tspan><tspan x="687.32" textLength="8.84" lengthAdjust="spacingAndGlyphs">0</tspan><tspan x="696.16" textLength="8.84" lengthAdjust="spacingAndGlyphs">2</tspan><tspan x="705" textLength="8.84" lengthAdjust="spacingAndGlyphs">5</tspan><tspan x="718.25" textLength="9.65" lengthAdjust="spacingAndGlyphs">R</tspan><tspan x="727.58" textLength="8.51" lengthAdjust="spacingAndGlyphs">a</tspan><tspan x="736.1" textLength="4.89" lengthAdjust="spacingAndGlyphs">f</tspan><tspan x="740.99" textLength="8.51" lengthAdjust="spacingAndGlyphs">a</tspan><tspan x="749.5" textLength="3.95" lengthAdjust="spacingAndGlyphs">ł</tspan><tspan x="757.86" textLength="10.39" lengthAdjust="spacingAndGlyphs">N</tspan><tspan x="768.25" textLength="8.5" lengthAdjust="spacingAndGlyphs">o</tspan><tspan x="776.75" textLength="8.82" lengthAdjust="spacingAndGlyphs">g</tspan><tspan x="785.56" textLength="8.51" lengthAdjust="spacingAndGlyphs">a</tspan></text>
<text x="302.16" y="15.9" font-size="14.72" font-weight="bold" stroke="#000" stroke-width="0.2"><tspan x="302.16" textLength="15.34" lengthAdjust="spacingAndGlyphs">W</tspan><tspan x="316.99" textLength="9.55" lengthAdjust="spacingAndGlyphs">o</tspan><tspan x="331.39" textLength="8.28" lengthAdjust="spacingAndGlyphs">s</tspan><tspan x="339.68" textLength="6.62" lengthAdjust="spacingAndGlyphs">t</tspan><tspan x="346.31" textLength="9.38" lengthAdjust="spacingAndGlyphs">a</tspan><tspan x="355.69" textLength="6.86" lengthAdjust="spacingAndGlyphs">r</tspan><tspan x="362.56" textLength="6.62" lengthAdjust="spacingAndGlyphs">t</tspan><tspan x="369.19" textLength="9.43" lengthAdjust="spacingAndGlyphs">e</tspan><tspan x="378.62" textLength="9.9" lengthAdjust="spacingAndGlyphs">n</tspan><tspan x="393.36" textLength="10.19" lengthAdjust="spacingAndGlyphs">P</tspan><tspan x="403.18" textLength="9.38" lengthAdjust="spacingAndGlyphs">a</tspan><tspan x="412.56" textLength="6.86" lengthAdjust="spacingAndGlyphs">r</tspan><tspan x="419.42" textLength="9.38" lengthAdjust="spacingAndGlyphs">a</tspan><tspan x="428.8" textLength="9.95" lengthAdjust="spacingAndGlyphs">g</tspan><tspan x="438.75" textLength="4.77" lengthAdjust="spacingAndGlyphs">l</tspan><tspan x="443.52" textLength="4.77" lengthAdjust="spacingAndGlyphs">i</tspan><tspan x="448.28" textLength="9.95" lengthAdjust="spacingAndGlyphs">d</tspan><tspan x="458.24" textLength="4.77" lengthAdjust="spacingAndGlyphs">i</tspan><tspan x="463" textLength="9.9" lengthAdjust="spacingAndGlyphs">n</tspan><tspan x="472.9" textLength="9.95" lengthAdjust="spacingAndGlyphs">g</tspan><tspan x="482.85" textLength="5.77" lengthAdjust="spacingAndGlyphs">-</tspan><tspan x="487.49" textLength="10.72" lengthAdjust="spacingAndGlyphs">X</tspan><tspan x="497.71" textLength="10.2" lengthAdjust="spacingAndGlyphs">C</tspan><tspan x="508.22" textLength="5.77" lengthAdjust="spacingAndGlyphs">-</tspan><tspan x="513.99" textLength="9.5" lengthAdjust="spacingAndGlyphs">F</tspan><tspan x="523.49" textLength="4.77" lengthAdjust="spacingAndGlyphs">l</tspan><tspan x="528.26" textLength="9.9" lengthAdjust="spacingAndGlyphs">ü</tspan><tspan x="538.15" textLength="9.95" lengthAdjust="spacingAndGlyphs">g</tspan><tspan x="548.1" textLength="9.43" lengthAdjust="spacingAndGlyphs">e</tspan><tspan x="562.37" textLength="4.77" lengthAdjust="spacingAndGlyphs">i</tspan><tspan x="567.14" textLength="9.9" lengthAdjust="spacingAndGlyphs">n</tspan><tspan x="581.88" textLength="10.77" lengthAdjust="spacingAndGlyphs">K</tspan><tspan x="592.65" textLength="6.86" lengthAdjust="spacingAndGlyphs">r</tspan><tspan x="599.51" textLength="9.55" lengthAdjust="spacingAndGlyphs">o</tspan><tspan x="609.06" textLength="9.38" lengthAdjust="spacingAndGlyphs">a</tspan><tspan x="618.46" textLength="6.62" lengthAdjust="spacingAndGlyphs">t</tspan><tspan x="625.09" textLength="4.77" lengthAdjust="spacingAndGlyphs">i</tspan><tspan x="629.85" textLength="9.43" lengthAdjust="spacingAndGlyphs">e</tspan><tspan x="639.28" textLength="9.9" lengthAdjust="spacingAndGlyphs">n</tspan><tspan x="649.18" textLength="8.06" lengthAdjust="spacingAndGlyphs">?</tspan></text></svg>
</body></html>
